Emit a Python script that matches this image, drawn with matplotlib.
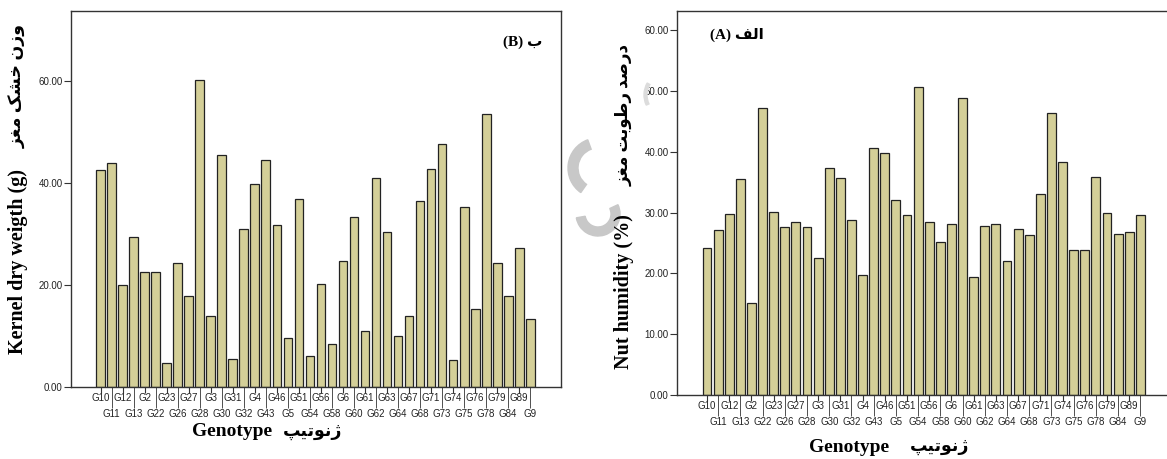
import numpy as np
import matplotlib
matplotlib.use("Agg")
import matplotlib.pyplot as plt
from matplotlib.patches import Wedge
from matplotlib.transforms import IdentityTransform

# data
genotypes = ["G10", "G11", "G12", "G13", "G2", "G22", "G23", "G26", "G27", "G28",
             "G3", "G30", "G31", "G32", "G4", "G43", "G46", "G5", "G51", "G54",
             "G56", "G58", "G6", "G60", "G61", "G62", "G63", "G64", "G67", "G68",
             "G71", "G73", "G74", "G75", "G76", "G78", "G79", "G84", "G89", "G9"]
kernel_dry_weight = [42.5, 44.0, 19.9, 29.4, 22.6, 22.6, 4.8, 24.4, 17.8, 60.2,
                     13.9, 45.4, 5.4, 30.9, 39.7, 44.4, 31.7, 9.6, 36.9, 6.1,
                     20.1, 8.5, 24.6, 33.3, 10.9, 41.0, 30.3, 9.9, 13.9, 36.4,
                     42.8, 47.6, 5.2, 35.2, 15.2, 53.6, 24.3, 17.8, 27.3, 13.3]
nut_humidity = [24.2, 27.2, 29.8, 35.6, 15.1, 47.3, 30.1, 27.7, 28.4, 27.6,
                22.6, 37.3, 35.7, 28.8, 19.7, 40.7, 39.9, 32.1, 29.7, 50.7,
                28.4, 25.2, 28.2, 48.9, 19.4, 27.8, 28.1, 22.0, 27.3, 26.4,
                33.1, 46.4, 38.4, 23.8, 23.9, 35.8, 29.9, 26.5, 26.8, 29.7]

# Arabic presentation forms: isolated, final, initial, medial
FORMS = {
    "ا": ("\uFE8D", "\uFE8E", None, None),
    "ب": ("\uFE8F", "\uFE90", "\uFE91", "\uFE92"),
    "ت": ("\uFE95", "\uFE96", "\uFE97", "\uFE98"),
    "خ": ("\uFEA5", "\uFEA6", "\uFEA7", "\uFEA8"),
    "د": ("\uFEA9", "\uFEAA", None, None),
    "ر": ("\uFEAD", "\uFEAE", None, None),
    "ز": ("\uFEAF", "\uFEB0", None, None),
    "ش": ("\uFEB5", "\uFEB6", "\uFEB7", "\uFEB8"),
    "ص": ("\uFEB9", "\uFEBA", "\uFEBB", "\uFEBC"),
    "ط": ("\uFEC1", "\uFEC2", "\uFEC3", "\uFEC4"),
    "غ": ("\uFECD", "\uFECE", "\uFECF", "\uFED0"),
    "ف": ("\uFED1", "\uFED2", "\uFED3", "\uFED4"),
    "ل": ("\uFEDD", "\uFEDE", "\uFEDF", "\uFEE0"),
    "م": ("\uFEE1", "\uFEE2", "\uFEE3", "\uFEE4"),
    "ن": ("\uFEE5", "\uFEE6", "\uFEE7", "\uFEE8"),
    "و": ("\uFEED", "\uFEEE", None, None),
    "ی": ("\uFBFC", "\uFBFD", "\uFBFE", "\uFBFF"),
    "پ": ("\uFB56", "\uFB57", "\uFB58", "\uFB59"),
    "ژ": ("\uFB8A", "\uFB8B", None, None),
    "ک": ("\uFB8E", "\uFB8F", "\uFB90", "\uFB91"),
}


def rtl(text):
    """Shape Persian text by hand and return it in visual order."""
    out = []
    for i, ch in enumerate(text):
        if ch not in FORMS:
            out.append(ch)
            continue
        prev = text[i - 1] if i > 0 else ""
        nxt = text[i + 1] if i < len(text) - 1 else ""
        jp = prev in FORMS and FORMS[prev][2] is not None
        jn = nxt in FORMS and FORMS[ch][2] is not None
        iso, fin, ini, med = FORMS[ch]
        if jp and jn:
            out.append(med)
        elif jp:
            out.append(fin)
        elif jn:
            out.append(ini)
        else:
            out.append(iso)
    return "".join(out[::-1])


W, H = 1167, 459
SERIF = ["Liberation Serif", "DejaVu Sans"]
BAR = "#D4CF98"

fig = plt.figure(figsize=(W / 100, H / 100), dpi=100)


def box(x0, y0, x1, y1):
    return [x0 / W, 1 - y1 / H, (x1 - x0) / W, (y1 - y0) / H]


def draw_panel(ax, values, ymax, yticks, xlim):
    x = np.arange(len(genotypes))
    ax.bar(x, values, width=0.8, color=BAR, edgecolor="#222222", linewidth=0.9, zorder=2)
    ax.set_xlim(*xlim)
    ax.set_ylim(0, ymax)
    ax.set_yticks(yticks)
    ax.set_yticklabels([f"{v:.2f}" for v in yticks])
    ax.set_xticks(x[::2])
    ax.set_xticklabels(genotypes[::2])
    ax.set_xticks(x[1::2], minor=True)
    ax.set_xticklabels(genotypes[1::2], minor=True)
    ax.tick_params(axis="x", which="major", length=4, pad=0.5, labelsize=7,
                   color="#333333", labelcolor="#222222")
    ax.tick_params(axis="x", which="minor", length=15, pad=0.5, labelsize=7,
                   color="#333333", labelcolor="#222222")
    ax.tick_params(axis="y", length=5, pad=1, labelsize=7,
                   color="#333333", labelcolor="#222222")
    for lab in ax.get_xticklabels() + ax.get_xticklabels(minor=True) + ax.get_yticklabels():
        lab.set_family("Liberation Sans")
    for s in ax.spines.values():
        s.set_color("#333333")
        s.set_linewidth(1.0)


# left panel (B)
axb = fig.add_axes(box(71, 11, 561, 387))
draw_panel(axb, kernel_dry_weight, 73.7, [0, 20, 40, 60], (-2.7, 41.8))

# right panel (A)
axa = fig.add_axes(box(677, 11, 1167, 395))
draw_panel(axa, nut_humidity, 63.2, [0, 10, 20, 30, 40, 50, 60], (-2.7, 41.4))
axa.spines["right"].set_visible(False)


def ftext(x, y, s, size=14, rot=0, ha="center"):
    fig.text(x / W, 1 - y / H, s, fontsize=size, rotation=rot, ha=ha, va="center",
             family=SERIF, weight="bold")


# axis titles
ftext(18, 262, "Kernel dry weigth (g)", size=14.5, rot=90)
ftext(18, 86, rtl("وزن خشک مغز"), size=12.5, rot=90)
ftext(232, 432, "Genotype")
ftext(313, 432, rtl("ژنوتیپ"), size=12.5)

ftext(624, 292, "Nut humidity (%)", size=14.5, rot=90)
ftext(624, 115, rtl("درصد رطوبت مغز"), size=12, rot=90)
ftext(849, 447, "Genotype")
ftext(940, 447, rtl("ژنوتیپ"), size=12.5)

# panel tags
ftext(523, 42, "(B) " + rtl("ب"), size=11)
ftext(737, 35, "(A) " + rtl("الف"), size=11)


# faint watermark shapes, placed in pixels (y measured from the top)
def mark(cx, cy, r, t1, t2, w, c):
    fig.patches.append(Wedge((cx, H - cy), r, t1, t2, width=w,
                             transform=IdentityTransform(), color=c, zorder=0))


mark(598, 168, 30, 110, 235, 10, "#c8c8c8")
mark(598, 214, 22, 190, 385, 9, "#c8c8c8")
mark(668, 95, 24, 150, 205, 3, "#dcdcdc")

fig.savefig("out.png", dpi=100)
